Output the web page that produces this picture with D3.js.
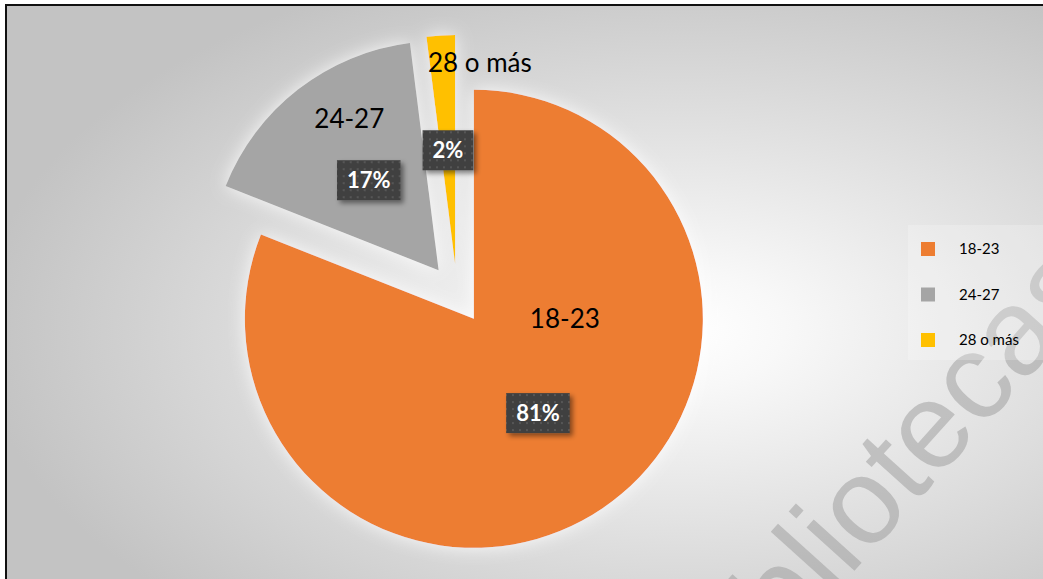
<!DOCTYPE html>
<html>
<head>
<meta charset="utf-8">
<script src="https://cdn.jsdelivr.net/npm/d3@7"></script>
<style>
body { margin: 0; background: #fff; }
svg text { font-family: Lato, "Open Sans", sans-serif; }
</style>
</head>
<body>
<svg id="chart" width="1043" height="579"></svg>
<script>
// data
var categories = ["18-23", "24-27", "28 o más"];
var values = [81, 17, 2];
var colors = ["#ED7D31", "#A5A5A5", "#FFC000"];

var WIDTH = 1043;
var HEIGHT = 579;
var CX = 457, CY = 294, RADIUS = 229, EXPLODE = 30;

var svg = d3.select("#chart");
var defs = svg.append("defs");

// background gradient (light centre, grey edges)
var bg = defs.append("radialGradient")
	.attr("id", "bg")
	.attr("gradientUnits", "userSpaceOnUse")
	.attr("cx", 680).attr("cy", 330).attr("r", 700)
	.attr("gradientTransform", "translate(680,330) scale(1,0.55) translate(-680,-330)");
bg.append("stop").attr("offset", "0").attr("stop-color", "#ffffff");
bg.append("stop").attr("offset", "0.15").attr("stop-color", "#f8f8f8");
bg.append("stop").attr("offset", "1").attr("stop-color", "#c3c3c3");

// white glow round the slices
var glow = defs.append("filter").attr("id", "glow")
	.attr("x", "-20%").attr("y", "-20%").attr("width", "140%").attr("height", "140%");
glow.append("feGaussianBlur").attr("in", "SourceAlpha").attr("stdDeviation", 9).attr("result", "b");
glow.append("feFlood").attr("flood-color", "#ffffff").attr("flood-opacity", 0.85);
glow.append("feComposite").attr("in2", "b").attr("operator", "in").attr("result", "g");
var gm = glow.append("feMerge");
gm.append("feMergeNode").attr("in", "g");
gm.append("feMergeNode").attr("in", "SourceGraphic");

// shadow under the percent boxes
var shadow = defs.append("filter").attr("id", "shadow")
	.attr("x", "-30%").attr("y", "-30%").attr("width", "160%").attr("height", "160%");
shadow.append("feDropShadow").attr("dx", 3).attr("dy", 3).attr("stdDeviation", 2.5)
	.attr("flood-color", "#000").attr("flood-opacity", 0.45);

// dotted dark fill for the boxes
var dots = defs.append("pattern").attr("id", "dots")
	.attr("width", 7).attr("height", 7).attr("patternUnits", "userSpaceOnUse");
dots.append("rect").attr("width", 7).attr("height", 7).attr("fill", "#404040");
dots.append("rect").attr("x", 2).attr("y", 2).attr("width", 2).attr("height", 2).attr("fill", "#565656");

svg.append("rect")
	.attr("x", 6).attr("y", 5)
	.attr("width", WIDTH + 60).attr("height", HEIGHT + 60)
	.attr("fill", "url(#bg)")
	.attr("stroke", "#111").attr("stroke-width", 2);

// watermark
svg.append("text")
	.attr("transform", "translate(722,718) rotate(-48)")
	.attr("font-size", 122)
	.style("font-family", "'Liberation Sans', Arial, sans-serif")
	.attr("fill", "#9a9a9a")
	.attr("fill-opacity", 0.5)
	.text("bibliotecas");

// pie
var total = d3.sum(values);
var pie = d3.pie().sort(null).value(function(d){ return d; });
var arcs = pie(values);
var arc = d3.arc().innerRadius(0).outerRadius(RADIUS);
var pctArc = d3.arc().innerRadius(114).outerRadius(114);

function offset(d, r) {
	var a = (d.startAngle + d.endAngle) / 2;
	return [Math.sin(a) * r, -Math.cos(a) * r];
}

var pieG = svg.append("g")
	.attr("transform", "translate(" + CX + "," + CY + ")")
	.attr("filter", "url(#glow)");

var slices = pieG.selectAll("g.slice")
	.data(arcs)
	.enter().append("g")
	.attr("class", "slice")
	.attr("transform", function(d){
		var o = offset(d, EXPLODE);
		return "translate(" + o[0] + "," + o[1] + ")";
	});

slices.append("path")
	.attr("d", arc)
	.attr("fill", function(d, i){ return colors[i]; });

// category names: angle shift from mid angle (deg) and radius
var nameShift = [-55.8, 7.3, 10.6];
var nameRadius = [91, 176, 203];

var labelG = svg.append("g").attr("transform", "translate(" + CX + "," + CY + ")");

arcs.forEach(function(d, i) {
	var o = offset(d, EXPLODE);
	var a = (d.startAngle + d.endAngle) / 2 + nameShift[i] * Math.PI / 180;
	var nx = o[0] + Math.sin(a) * nameRadius[i];
	var ny = o[1] - Math.cos(a) * nameRadius[i];
	labelG.append("text")
		.attr("x", nx).attr("y", ny)
		.attr("dy", "0.35em")
		.attr("text-anchor", "middle")
		.attr("font-size", 26)
		.attr("fill", "#000")
		.text(categories[i]);
});

arcs.forEach(function(d, i) {
	var o = offset(d, EXPLODE);
	var c = pctArc.centroid(d);
	var px = o[0] + c[0], py = o[1] + c[1];
	var g = labelG.append("g").attr("transform", "translate(" + px + "," + py + ")");
	var box = g.append("rect").attr("fill", "url(#dots)").attr("filter", "url(#shadow)");
	var t = g.append("text")
		.attr("text-anchor", "middle")
		.attr("dy", "0.36em")
		.attr("font-size", 22)
		.attr("font-weight", "bold")
		.attr("fill", "#fff")
		.text(Math.round(values[i] / total * 100) + "%");
	var bb = t.node().getBBox();
	var w = bb.width + 20, h = 40;
	box.attr("x", -w / 2).attr("y", -h / 2).attr("width", w).attr("height", h);
});

// legend
var legendY = d3.scalePoint().domain(categories).range([249, 340]);

svg.append("rect")
	.attr("x", 908).attr("y", 225).attr("width", 140).attr("height", 135)
	.attr("fill", "#fff").attr("fill-opacity", 0.22);

var legend = svg.append("g").selectAll("g")
	.data(categories)
	.enter().append("g")
	.attr("transform", function(d){ return "translate(921," + legendY(d) + ")"; });

legend.append("rect")
	.attr("x", 0).attr("y", -7)
	.attr("width", 14).attr("height", 14)
	.attr("fill", function(d, i){ return colors[i]; });

legend.append("text")
	.attr("x", 38).attr("dy", "0.35em")
	.attr("font-size", 15)
	.attr("fill", "#000")
	.text(function(d){ return d; });
</script>
</body>
</html>
